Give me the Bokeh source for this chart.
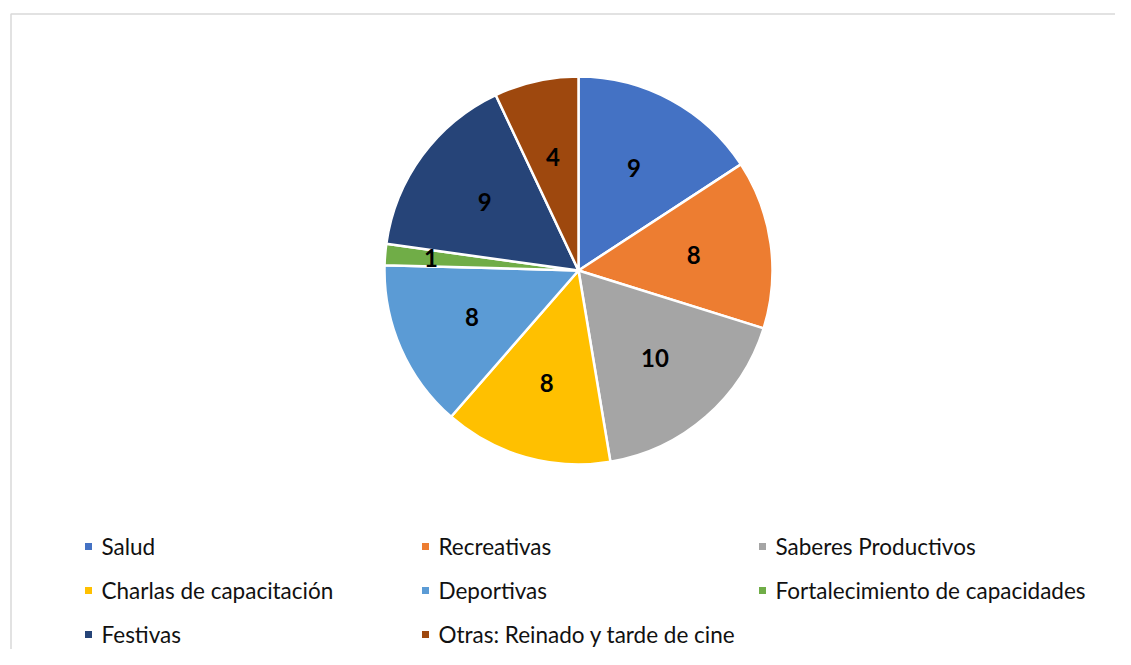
import math
import numpy as np
from bokeh.plotting import figure
from bokeh.models import Range1d, ColumnDataSource
from bokeh.core.properties import value
from bokeh.embed import file_html
from bokeh.resources import INLINE

# ---- data ----
categories = ["Salud", "Recreativas", "Saberes Productivos", "Charlas de capacitación",
              "Deportivas", "Fortalecimiento de capacidades", "Festivas",
              "Otras: Reinado y tarde de cine"]
values = [9, 8, 10, 8, 8, 1, 9, 4]
colors = ["#4472C4", "#ED7D31", "#A5A5A5", "#FFC000", "#5B9BD5", "#70AD47", "#264478", "#9E480E"]

W, H = 1115, 649
FONT = "Lato"

def fy(page_y):
    return H - page_y

def fx(page_x):
    return page_x

p = figure(width=W, height=H, x_range=Range1d(0, W), y_range=Range1d(0, H),
           output_backend="svg", toolbar_location=None, min_border=0)
p.axis.visible = False
p.grid.visible = False
p.outline_line_color = None
p.background_fill_color = "white"
p.border_fill_color = "white"

# chart area frame (top and left edges visible)
p.line([fx(10.5), fx(10.5), fx(1131)], [fy(700), fy(13.5), fy(13.5)],
       line_color="#d9d9d9", line_width=1.5)

# ---- pie ----
cx, cy, R = fx(578), fy(270), 194
vals = np.array(values, dtype=float)
total = vals.sum()
cum = np.cumsum(vals)
prev = cum - vals
start = math.pi / 2 - 2 * math.pi * prev / total
end = math.pi / 2 - 2 * math.pi * cum / total
src = ColumnDataSource(dict(start=start, end=end, color=colors, cat=categories))
p.wedge(x=cx, y=cy, radius=R, radius_units="screen", start_angle="start", end_angle="end",
        direction="clock", fill_color="color", line_color="white", line_width=2.5, source=src)

mid = (start + end) / 2
share = vals / total
rf = np.where(share < 0.05, 0.763, 0.6)
lx = cx + rf * R * np.cos(mid)
ly = cy + rf * R * np.sin(mid)
p.text(x=lx, y=ly, text=[str(v) for v in values], text_align="center",
       text_baseline="middle", text_font=value(FONT), text_font_style="bold",
       text_font_size="24px", text_color="black")

# ---- legend ----
col_x = [88, 425, 762]
row_y = [546, 590, 634]
mx, my, tx, ty = [], [], [], []
for i, c in enumerate(categories):
    r, k = divmod(i, 3)
    mx.append(fx(col_x[k]))
    my.append(fy(row_y[r]))
    tx.append(fx(col_x[k] + 13))
    ty.append(fy(row_y[r]))
p.scatter(x=mx, y=my, marker="square", size=7, fill_color=colors, line_color=None)
p.text(x=tx, y=ty, text=categories, text_align="left", text_baseline="middle",
       text_font=value(FONT), text_font_size="22.5px", text_color="#111111")

open("out.html", "w").write(file_html(p, INLINE))
